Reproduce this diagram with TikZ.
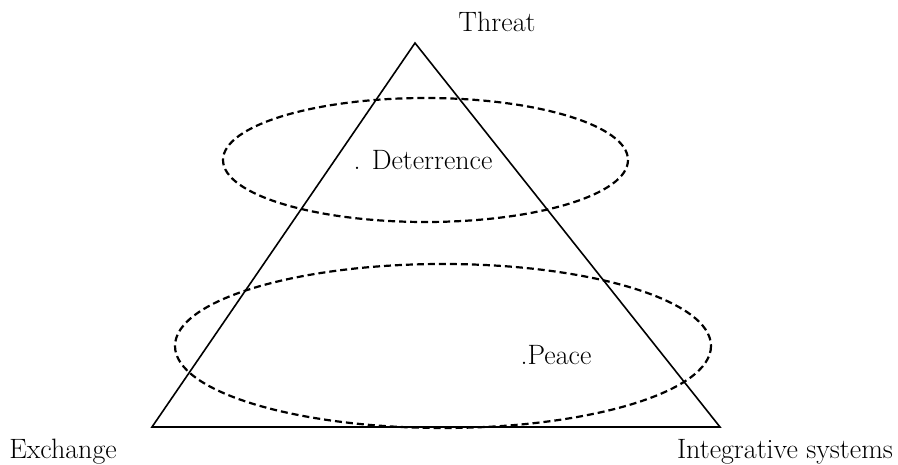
\documentclass[tikz,border=0pt]{standalone}
\usepackage{tikz}
\usetikzlibrary{positioning}

\tikzset{
  lbl/.style={inner sep=0pt,font=\fontsize{28}{33}\selectfont},
  zone/.style={draw,dashed,line width=2.2pt,dash pattern=on 7pt off 4pt}
}

\begin{document}
\begin{tikzpicture}[x=1pt,y=-1pt]
    \useasboundingbox (0,0) rectangle (898,465);
    % triangle corners
    \coordinate (top) at (415,43);
    \coordinate (bl) at (152,427);
    \coordinate (br) at (720,427);
    \draw[line width=1.6pt,line join=miter] (top) -- (bl) -- (br) -- cycle;
    % dashed zones
    \draw[zone] (425.5,160) ellipse [x radius=202.5,y radius=62];
    \draw[zone] (443,346) ellipse [x radius=268,y radius=82];
    % labels
    \node[lbl] (threat) at (497,22) {Threat};
    \node[lbl] (deter) at (423,160) {. Deterrence};
    \node[lbl] (peace) at (556,355) {.Peace};
    \node[lbl] (exch) at (63,452) {Exchange};
    \node[lbl] (integ) at (785,452) {Integrative systems};
  \end{tikzpicture}
\end{document}
